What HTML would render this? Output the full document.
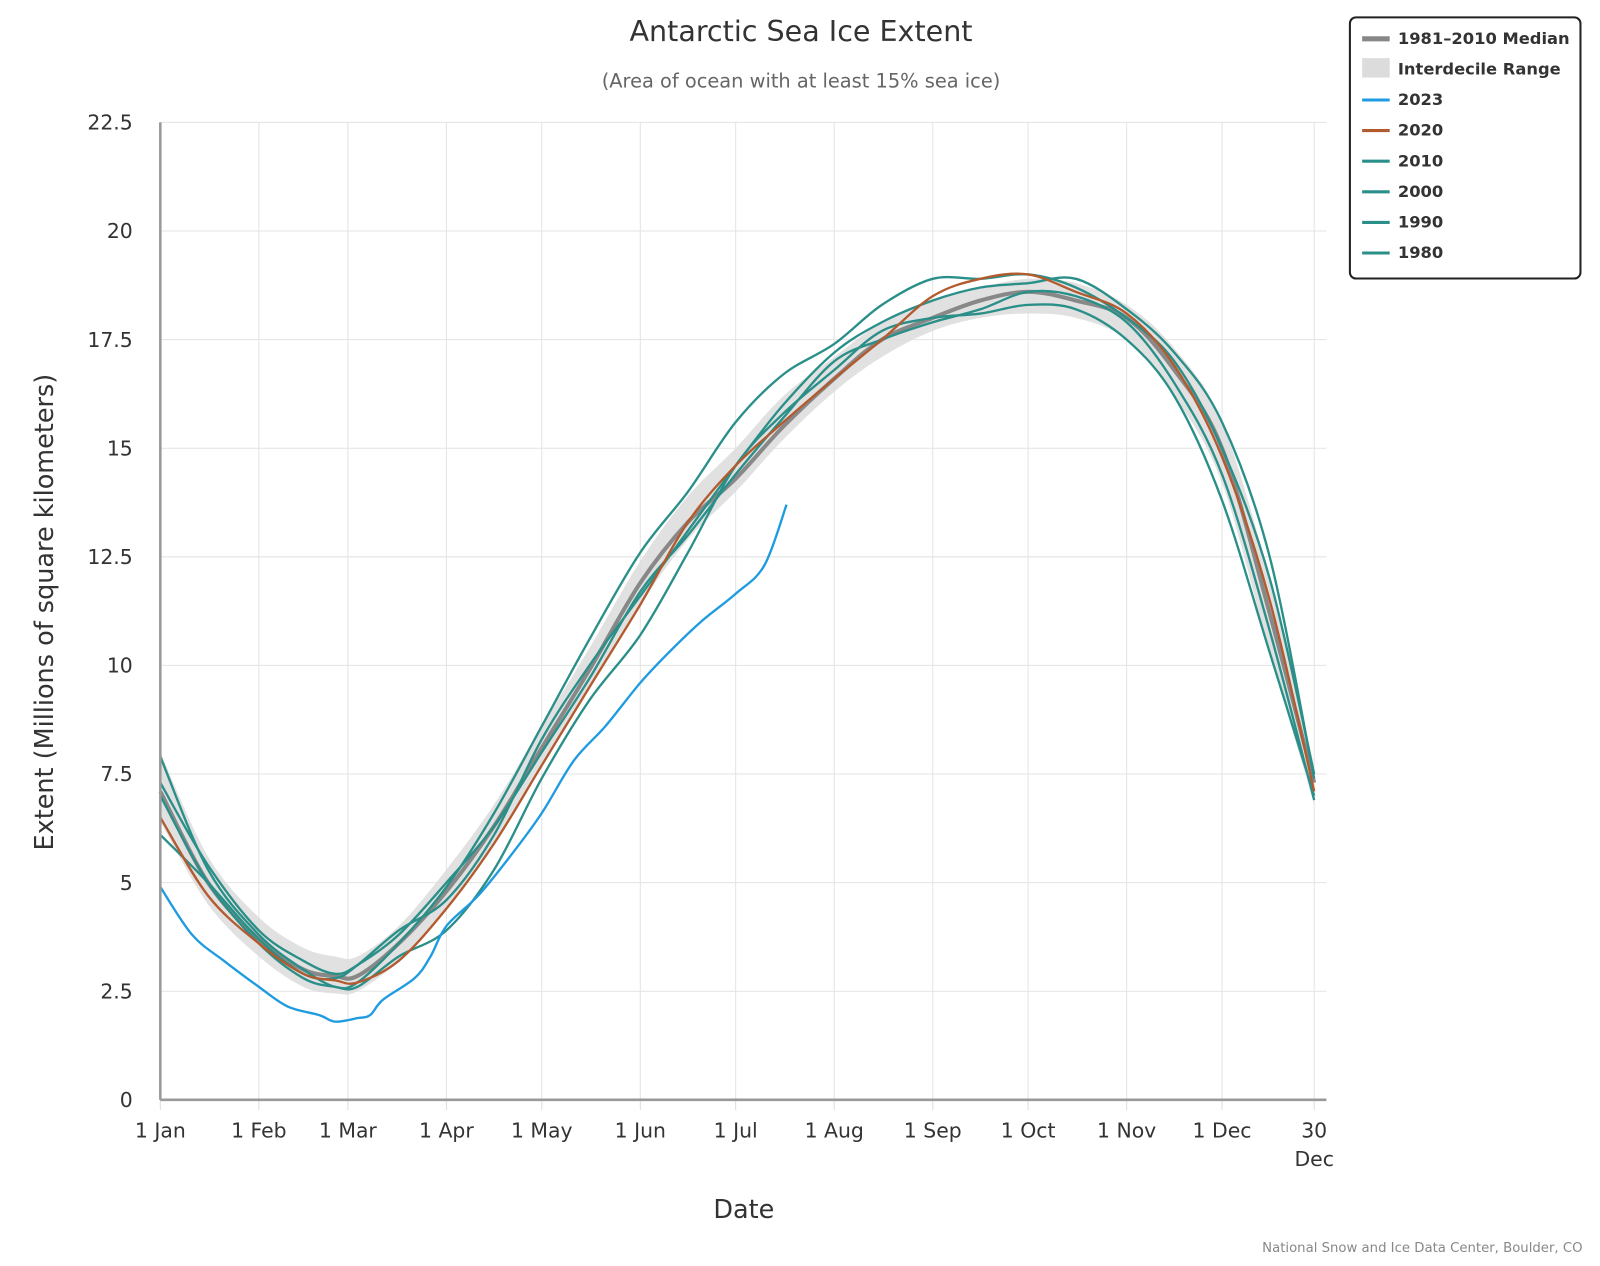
<!DOCTYPE html>
<html><head><meta charset="utf-8"><style>
body{margin:0;background:#fff;}
svg text{font-family:"DejaVu Sans","Liberation Sans",sans-serif;fill:#333;}
</style></head><body>
<svg id="chart" width="1600" height="1261" viewBox="0 0 1568 1236" xmlns="http://www.w3.org/2000/svg">
<text x="785" y="40" font-size="28" text-anchor="middle">Antarctic Sea Ice Extent</text>
<text x="785" y="86" font-size="19" text-anchor="middle" style="fill:#666">(Area of ocean with at least 15% sea ice)</text>
<g id="grid"></g>
<g id="band"></g>
<g id="lines"></g>
<g id="axes"></g>
<text transform="translate(52,600) rotate(-90)" font-size="25" text-anchor="middle">Extent (Millions of square kilometers)</text>
<text x="729" y="1194" font-size="25" text-anchor="middle">Date</text>
<text x="1551" y="1227" font-size="13" text-anchor="end" style="fill:#888">National Snow and Ice Data Center, Boulder, CO</text>
<g>
<rect x="1323" y="17" width="226" height="256" rx="6" fill="#fff" stroke="#222" stroke-width="2"/>
<g id="legend-items"></g>
</g>
</svg>
<script>
const days = [0,15,31,45,55,62,75,90,105,120,135,151,166,181,196,212,227,243,258,273,288,304,319,334,349,363];
const median = [7.1,5.0,3.7,3.0,2.85,2.85,3.6,4.8,6.3,8.1,9.9,11.9,13.3,14.3,15.5,16.6,17.5,18.0,18.4,18.6,18.4,18.0,16.8,15.0,11.2,7.3];
const bandLow = [6.4,4.5,3.3,2.6,2.45,2.5,3.2,4.4,5.9,7.7,9.5,11.4,12.9,14.0,15.2,16.3,17.1,17.7,18.0,18.1,18.0,17.5,16.2,14.2,10.3,6.8];
const bandHigh = [8.0,5.6,4.2,3.5,3.3,3.3,4.0,5.3,6.8,8.6,10.4,12.4,13.9,15.0,16.2,17.1,17.9,18.4,18.7,18.9,18.8,18.3,17.3,15.6,12.0,7.7];
const y2023days = [0,10,20,31,40,50,55,62,66,70,80,85,90,100,110,120,130,140,151,160,170,181,190,197];
const y2023 = [4.9,3.8,3.2,2.6,2.15,1.95,1.8,1.88,1.95,2.3,2.8,3.3,4.0,4.7,5.6,6.6,7.8,8.6,9.6,10.3,11.0,11.65,12.3,13.7];
const y2020 = [6.5,4.7,3.6,2.9,2.75,2.7,3.2,4.4,5.9,7.7,9.5,11.4,13.3,14.6,15.6,16.6,17.5,18.5,18.9,19.0,18.6,18.1,16.9,14.8,11.5,7.1];
const y2010 = [7.9,5.3,3.8,3.0,2.6,2.7,3.6,4.9,6.6,8.6,10.6,12.6,14.0,15.6,16.7,17.4,18.3,18.9,18.9,19.0,18.7,18.0,17.0,15.0,12.0,7.5];
const y2000 = [7.0,5.0,3.6,2.8,2.6,2.6,3.3,3.9,5.3,7.4,9.2,10.7,12.6,14.6,15.8,16.8,17.7,18.0,18.1,18.3,18.2,17.5,16.2,13.8,10.3,7.0];
const y1990 = [6.1,5.0,3.7,2.9,2.8,3.1,3.9,4.6,6.1,8.3,10.0,11.6,13.1,14.6,16.0,17.2,17.9,18.4,18.7,18.8,18.9,18.2,17.2,15.6,12.5,7.4];
const y1980 = [7.3,5.4,3.9,3.2,2.9,3.1,3.8,5.0,6.3,8.0,9.7,11.7,13.0,14.4,15.7,17.0,17.5,17.9,18.2,18.6,18.5,17.9,16.5,14.4,10.8,6.9];
const yTicks = [0,2.5,5,7.5,10,12.5,15,17.5,20,22.5];
const monthDays = [0,31,59,90,120,151,181,212,243,273,304,334,363];
const monthLabels = ["1 Jan","1 Feb","1 Mar","1 Apr","1 May","1 Jun","1 Jul","1 Aug","1 Sep","1 Oct","1 Nov","1 Dec","30"];

const X0=157,X1=1288,Y0=1078,Y1=120,PR=1300;
const xs=d=>X0+(X1-X0)*d/363;
const ys=v=>Y0-(Y0-Y1)*v/22.5;
const NS="http://www.w3.org/2000/svg";
function mk(tag,attrs,parent){const e=document.createElementNS(NS,tag);for(const k in attrs)e.setAttribute(k,attrs[k]);parent.appendChild(e);return e;}
function smooth(pts){let d=`M${pts[0][0]},${pts[0][1]}`;for(let i=0;i<pts.length-1;i++){const p0=pts[i-1]||pts[i],p1=pts[i],p2=pts[i+1],p3=pts[i+2]||p2;const c1x=p1[0]+(p2[0]-p0[0])/6,c1y=p1[1]+(p2[1]-p0[1])/6,c2x=p2[0]-(p3[0]-p1[0])/6,c2y=p2[1]-(p3[1]-p1[1])/6;d+=`C${c1x},${c1y} ${c2x},${c2y} ${p2[0]},${p2[1]}`;}return d;}
const grid=document.getElementById('grid'),axes=document.getElementById('axes'),lines=document.getElementById('lines');
yTicks.forEach(t=>{const y=ys(t);
const g=mk('line',{x1:X0,x2:PR,y1:y,y2:y,stroke:'#e3e3e3','stroke-width':1},grid);

const tx=mk('text',{x:130,y:y+7,'font-size':20,'text-anchor':'end'},axes);tx.textContent=t;
});
monthDays.forEach((d,i)=>{const x=xs(d);
if(i>0){const g=mk('line',{x1:x,x2:x,y1:Y1,y2:Y0,stroke:'#e3e3e3','stroke-width':1},grid);
}
const tk=mk('line',{x1:x,x2:x,y1:Y0,y2:Y0+10,stroke:'#ddd','stroke-width':1},axes);

const tx=mk('text',{x:x,y:1115,'font-size':20,'text-anchor':'middle'},axes);tx.textContent=monthLabels[i];

if(i===12){const t2=mk('text',{x:x,y:1143,'font-size':20,'text-anchor':'middle'},axes);t2.textContent='Dec';
}});
const ya=mk('line',{x1:X0,x2:X0,y1:Y1,y2:Y0,stroke:'#999','stroke-width':2.5},axes);

const xa=mk('line',{x1:X0,x2:PR,y1:Y0,y2:Y0,stroke:'#999','stroke-width':2.5},axes);

const up=days.map((d,i)=>[xs(d),ys(bandHigh[i])]),lo=days.map((d,i)=>[xs(d),ys(bandLow[i])]).reverse();
const bp=mk('path',{d:smooth(up)+smooth(lo).replace('M','L')+'Z',fill:'#dcdcdc',opacity:0.85},document.getElementById('band'));

function line(dd,vals,color,w,name){const p=mk('path',{d:smooth(dd.map((d,i)=>[xs(d),ys(vals[i])])),fill:'none',stroke:color,'stroke-width':w,'stroke-linejoin':'round'},lines);
}
const teal='#2a8f88';
line(days,median,'#888',4,'median-line');
line(days,y1980,teal,2.3,'line-1980');
line(days,y1990,teal,2.3,'line-1990');
line(days,y2000,teal,2.3,'line-2000');
line(days,y2010,teal,2.3,'line-2010');
line(days,y2020,'#b35a2e',2.3,'line-2020');
line(y2023days,y2023,'#1f9be0',2.3,'line-2023');
const leg=[["1981–2010 Median",'#888','line'],["Interdecile Range",'#dcdcdc','box'],["2023",'#1f9be0','line'],["2020",'#b35a2e','line'],["2010",teal,'line'],["2000",teal,'line'],["1990",teal,'line'],["1980",teal,'line']];
const li=document.getElementById('legend-items');
leg.forEach((l,i)=>{const y=37+i*30;
const s=l[2]==='box'?mk('rect',{x:1335,y:y-10,width:27,height:19,fill:l[1]},li):mk('line',{x1:1335,x2:1362,y1:y+1,y2:y+1,stroke:l[1],'stroke-width':l[0].startsWith('1981')?5:3},li);

const t=mk('text',{x:1370,y:y+6,'font-size':16,'font-weight':'600'},li);t.textContent=l[0];
});
</script>
</body></html>
